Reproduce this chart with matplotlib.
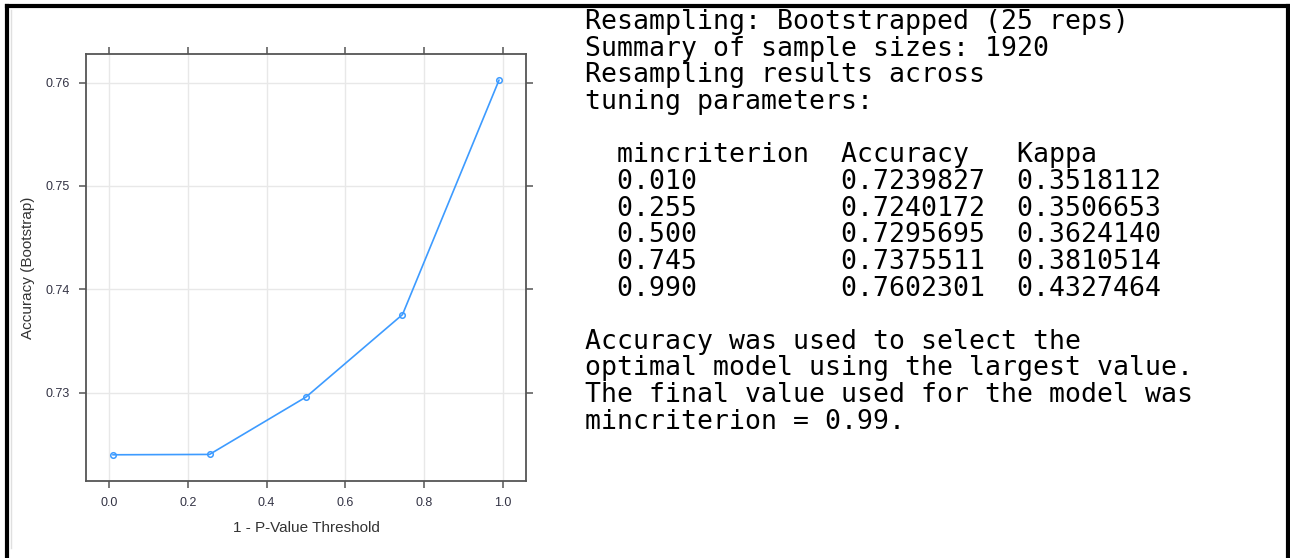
import numpy as np
import matplotlib.pyplot as plt
from matplotlib.lines import Line2D

# tuning results (ctree, mincriterion grid)
mincriterion = [0.010, 0.255, 0.500, 0.745, 0.990]
accuracy = [0.7239827, 0.7240172, 0.7295695, 0.7375511, 0.7602301]
kappa = [0.3518112, 0.3506653, 0.3624140, 0.3810514, 0.4327464]

xticks = [0.0, 0.2, 0.4, 0.6, 0.8, 1.0]
yticks = [0.73, 0.74, 0.75, 0.76]

W, H = 1290, 558
fig = plt.figure(figsize=(W / 100, H / 100), dpi=100)
fig.patch.set_facecolor("white")


def px(x0, y0, x1, y1):
    # pixel box (top-left origin) -> figure fraction rect
    return [x0 / W, 1 - y1 / H, (x1 - x0) / W, (y1 - y0) / H]


ax = fig.add_axes(px(86, 54, 526, 481))

# lattice style padding of 7% on both axes
xr = max(mincriterion) - min(mincriterion)
yr = max(accuracy) - min(accuracy)
ax.set_xlim(min(mincriterion) - 0.07 * xr, max(mincriterion) + 0.07 * xr)
ax.set_ylim(min(accuracy) - 0.07 * yr, max(accuracy) + 0.07 * yr)

ax.set_xticks(xticks)
ax.set_yticks(yticks)
ax.set_xticklabels(["%.1f" % v for v in xticks])
ax.set_yticklabels(["%.2f" % v for v in yticks])
ax.grid(True, color="#e8e8e8", lw=1)
ax.set_axisbelow(True)

for s in ax.spines.values():
    s.set_color("#555555")
    s.set_linewidth(1.3)

ax.tick_params(axis="both", direction="out", length=5, width=1.1, color="#555555",
               labelsize=9, labelcolor="#333344", pad=6.5,
               top=True, right=True, labeltop=False, labelright=False)

ax.plot(mincriterion, accuracy, color="#3d9bff", lw=1.2, marker="o", ms=4,
        mfc="none", mec="#3d9bff", mew=1.1)

ax.set_xlabel("1 - P-Value Threshold", fontsize=11, color="#333333", labelpad=9,
              family="Liberation Sans")
ax.set_ylabel("Accuracy (Bootstrap)", fontsize=11, color="#333333", labelpad=8,
              family="Liberation Sans")
for lab in ax.get_xticklabels() + ax.get_yticklabels():
    lab.set_family("Liberation Sans")

# printed model summary on the right
lines = [
    "Resampling: Bootstrapped (25 reps)",
    "Summary of sample sizes: 1920",
    "Resampling results across",
    "tuning parameters:",
    "",
    "  mincriterion  Accuracy   Kappa",
]
for m, a, k in zip(mincriterion, accuracy, kappa):
    lines.append("  %-12.3f  %.7f  %.7f" % (m, a, k))
lines += [
    "",
    "Accuracy was used to select the",
    "optimal model using the largest value.",
    "The final value used for the model was",
    "mincriterion = %.2f." % mincriterion[int(np.argmax(accuracy))],
]

y0 = 29
step = 26.65
for i, s in enumerate(lines):
    fig.text(585 / W, 1 - (y0 + i * step) / H, s, family="DejaVu Sans Mono",
             fontsize=19.1, color="black", va="baseline", ha="left")

# frame around the whole picture
k = dict(color="black", lw=3, solid_capstyle="projecting")
fig.add_artist(Line2D([7 / W, 1288 / W], [1 - 6 / H, 1 - 6 / H], **k))
fig.add_artist(Line2D([7 / W, 7 / W], [0, 1 - 6 / H], **k))
fig.add_artist(Line2D([1288 / W, 1288 / W], [0, 1 - 6 / H], **k))
fig.add_artist(Line2D([10.5 / W, 10.5 / W], [1 - 548 / H, 1 - 10 / H],
                      color="#e0e0e0", lw=1))

fig.savefig("out.png", dpi=100)
